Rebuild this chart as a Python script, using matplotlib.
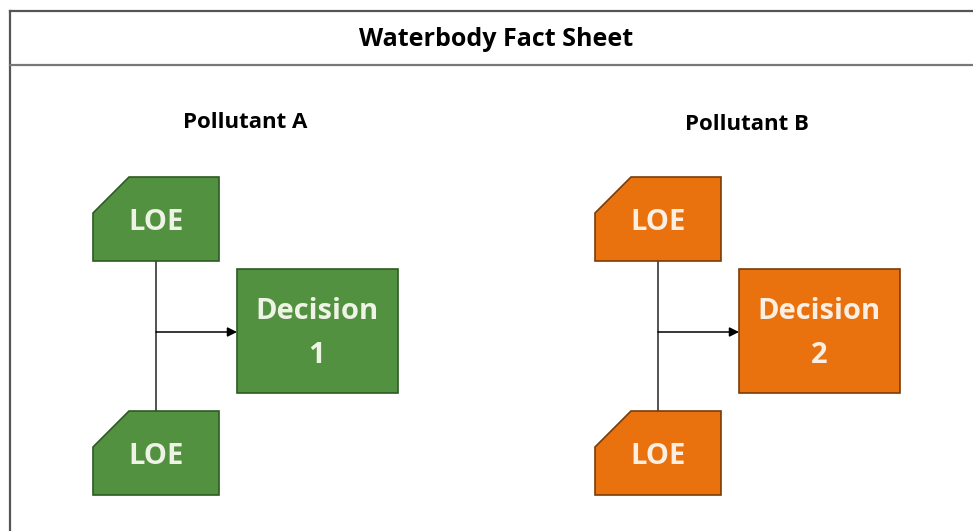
import matplotlib.pyplot as plt
from matplotlib.patches import Polygon, Rectangle

title = 'Waterbody Fact Sheet'
pollutants = ['Pollutant A', 'Pollutant B']
decision_word = ['Decision', 'Decision']
decision_num = ['1', '2']
evidence = ['LOE', 'LOE']
fills = ['#529140', '#E9720F']
edges = ['#2E5A22', '#7A3C08']
text_colors = ['#EEF3E6', '#FBEEE3']

plt.rcParams['font.family'] = ['Open Sans', 'DejaVu Sans']

fig = plt.figure(figsize=(9.73, 5.31), dpi=100)
ax = fig.add_axes([0, 0, 1, 1])
ax.set_xlim(0, 973)
ax.set_ylim(531, 0)
ax.axis('off')

# outer frame and header band
ax.plot([10, 10], [531, 11], color='#555555', lw=1.6)
ax.plot([10, 973], [11, 11], color='#555555', lw=1.6)
ax.plot([10, 973], [65, 65], color='#777777', lw=1.6)
ax.text(496, 46, title, ha='center', va='baseline', fontsize=18, fontweight='bold')


def loe(x0, y0, fill, edge, tc, label):
    # card shape: top-left corner cut off
    w, h, cut = 126, 84, 36
    pts = [(x0, y0 + h), (x0, y0 + cut), (x0 + cut, y0), (x0 + w, y0), (x0 + w, y0 + h)]
    ax.add_patch(Polygon(pts, closed=True, facecolor=fill, edgecolor=edge, lw=1.2, zorder=3))
    ax.text(x0 + 63, y0 + 53, label, ha='center', va='baseline',
            fontsize=21, fontweight='bold', color=tc, zorder=4)


for i in range(2):
    dx = 502 * i
    ax.text(245 + dx, 128 + 2 * i, pollutants[i], ha='center', va='baseline',
            fontsize=16, fontweight='bold')

    # connector: vertical trunk and arrow to decision
    ax.plot([156 + dx, 156 + dx], [261, 411], color='#444444', lw=1.3, zorder=2)
    ax.annotate('', xy=(237 + dx, 332), xytext=(156 + dx, 332),
                arrowprops=dict(arrowstyle='-|>', color='black', lw=1.1,
                                mutation_scale=14, shrinkA=0, shrinkB=0), zorder=2)

    loe(93 + dx, 177, fills[i], edges[i], text_colors[i], evidence[i])
    loe(93 + dx, 411, fills[i], edges[i], text_colors[i], evidence[i])

    ax.add_patch(Rectangle((237 + dx, 269), 161, 124, facecolor=fills[i],
                           edgecolor=edges[i], lw=1.2, zorder=3))
    ax.text(317 + dx, 319, decision_word[i], ha='center', va='baseline', fontsize=21,
            fontweight='bold', color=text_colors[i], zorder=4)
    ax.text(317 + dx, 363, decision_num[i], ha='center', va='baseline', fontsize=21,
            fontweight='bold', color=text_colors[i], zorder=4)

fig.savefig('out.png', dpi=100)
